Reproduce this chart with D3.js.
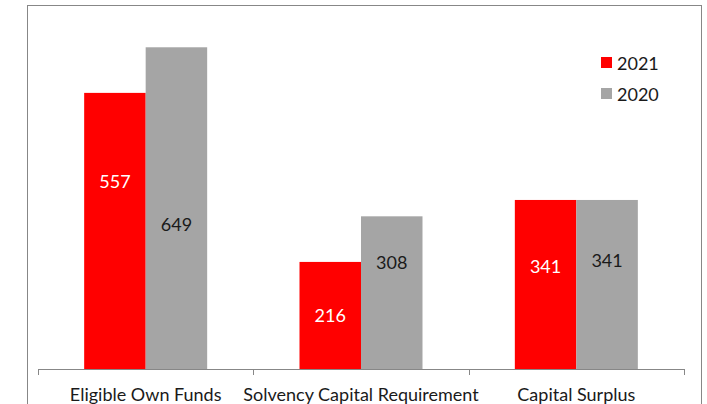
<!DOCTYPE html>
<html>
<head>
<meta charset="utf-8">
<script src="https://cdn.jsdelivr.net/npm/d3@7"></script>
<style>
  body { margin: 0; background: #fff; }
  svg { display: block; font-family: Lato, "Open Sans", sans-serif; }
</style>
</head>
<body>
<div id="chart"></div>
<script>
// Capital position chart - grouped bars, 2021 vs 2020
const categories = ["Eligible Own Funds", "Solvency Capital Requirement", "Capital Surplus"];
const seriesNames = ["2021", "2020"];
const values2021 = [557, 216, 341];
const values2020 = [649, 308, 341];

const colors = { "2021": "#ff0000", "2020": "#a5a5a5" };
const labelColors = { "2021": "#ffffff", "2020": "#1a1a1a" };
// where inside each bar the value label sits (fraction of bar height from the bottom)
const labelFrac = { "2021": [0.68, 0.5, 0.61], "2020": [0.45, 0.7, 0.645] };

const W = 707, H = 404;
const plot = { left: 38, right: 684, top: 22, bottom: 369 };
const fontSize = 18;

const svg = d3.select("#chart")
    .append("svg")
    .attr("width", W)
    .attr("height", H);

// outer chart border (bottom edge runs off the picture)
svg.append("rect")
    .attr("x", 27.5).attr("y", 5.5)
    .attr("width", 674).attr("height", 430)
    .attr("fill", "none")
    .attr("stroke", "#878787")
    .attr("stroke-width", 1);

const x = d3.scaleBand()
    .domain(categories)
    .range([plot.left, plot.right]);

const barW = 61.5;
const xs = d3.scaleBand()
    .domain(seriesNames)
    .range([x.bandwidth() / 2 - barW, x.bandwidth() / 2 + barW]);

const y = d3.scaleLinear()
    .domain([0, 700])
    .range([plot.bottom, plot.top]);

const data = categories.map((c, i) => ({
    category: c,
    idx: i,
    values: [
        { key: "2021", value: values2021[i] },
        { key: "2020", value: values2020[i] }
    ]
}));

const groups = svg.selectAll(".group")
    .data(data)
    .enter()
    .append("g")
    .attr("class", "group")
    .attr("transform", d => `translate(${x(d.category)},0)`);

groups.selectAll("rect")
    .data(d => d.values)
    .enter()
    .append("rect")
    .attr("x", d => xs(d.key))
    .attr("y", d => y(d.value))
    .attr("width", xs.bandwidth())
    .attr("height", d => y(0) - y(d.value))
    .attr("fill", d => colors[d.key]);

// value labels
groups.selectAll(".val")
    .data(d => d.values.map(v => ({ ...v, idx: d.idx })))
    .enter()
    .append("text")
    .attr("class", "val")
    .attr("x", d => xs(d.key) + xs.bandwidth() / 2)
    .attr("y", d => y(d.value * labelFrac[d.key][d.idx]))
    .attr("text-anchor", "middle")
    .attr("dominant-baseline", "central")
    .attr("font-size", fontSize)
    .attr("fill", d => labelColors[d.key])
    .text(d => d.value);

// category axis
const axis = svg.append("g")
    .attr("transform", `translate(0,${plot.bottom})`)
    .call(d3.axisBottom(x).tickSize(0).tickPadding(19).tickSizeOuter(0));

axis.select(".domain").attr("stroke", "#878787");
axis.selectAll(".tick text")
    .attr("font-size", fontSize)
    .attr("font-family", "Lato, 'Open Sans', sans-serif")
    .attr("fill", "#1a1a1a");

// tick marks sit on category boundaries
const bounds = categories.map(c => x(c)).concat([x(categories[categories.length - 1]) + x.bandwidth()]);
axis.selectAll(".bound")
    .data(bounds)
    .enter()
    .append("line")
    .attr("class", "bound")
    .attr("x1", d => Math.round(d) + 0.5)
    .attr("x2", d => Math.round(d) + 0.5)
    .attr("y1", 0)
    .attr("y2", 6)
    .attr("stroke", "#878787");

// legend
const legend = svg.append("g")
    .attr("transform", "translate(601,51)");

const li = legend.selectAll(".li")
    .data(seriesNames)
    .enter()
    .append("g")
    .attr("class", "li")
    .attr("transform", (d, i) => `translate(0,${i * 31})`);

li.append("rect")
    .attr("x", 0).attr("y", 6)
    .attr("width", 11).attr("height", 11)
    .attr("fill", d => colors[d]);

li.append("text")
    .attr("x", 16)
    .attr("y", 12)
    .attr("dominant-baseline", "central")
    .attr("font-size", fontSize)
    .attr("fill", "#1a1a1a")
    .text(d => d);
</script>
</body>
</html>
